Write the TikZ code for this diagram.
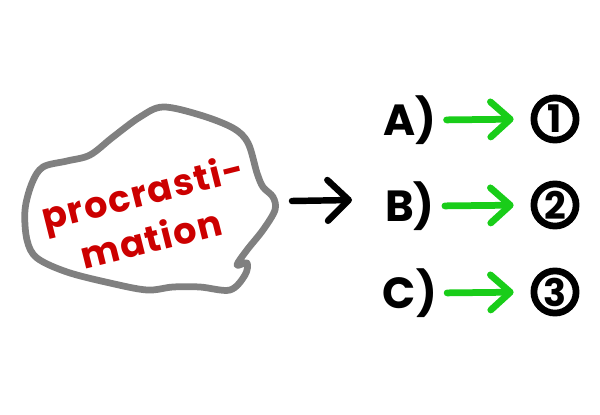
\documentclass[tikz,border=0pt]{standalone}
\usepackage{fontspec}
\setmainfont{Poppins}
\newfontfamily\markerfont[LetterSpace=4]{Poppins}
\usetikzlibrary{arrows.meta}

\begin{document}
\begin{tikzpicture}[x=0.025cm,y=-0.025cm]
		% --- Lienzo: coordenadas en pixeles (600 x 415) ---
		\useasboundingbox (0,0) rectangle (600,415);
		\definecolor{blobgray}{RGB}{128,128,128}
		\definecolor{procred}{RGB}{204,0,0}
		\definecolor{pathgreen}{RGB}{25,205,25}
		\tikzset{
			blobline/.style={draw=blobgray, line width=4.8pt, line join=round},
			proctext/.style={text=procred, font=\markerfont\bfseries\fontsize{26}{28}\selectfont, inner sep=0pt},
			letter/.style={font=\bfseries\fontsize{31}{33}\selectfont, inner sep=0pt},
			numcirc/.style={circle, draw, line width=4.8pt, minimum size=30pt, inner sep=0pt,
				font=\bfseries\fontsize{27}{29}\selectfont},
			bigarrow/.style={line width=4.6pt, line cap=round,
				-{Straight Barb[length=15pt,width=29pt,round]}},
			greenarrow/.style={draw=pathgreen, line width=4.8pt, line cap=round,
				-{Straight Barb[length=14pt,width=25pt,round]}}
		}

		% --- Mancha con el texto ---
		\draw[blobline] plot[smooth cycle, tension=0.55] coordinates {
			(163,107) (200,115) (233,128) (248,143) (257,173) (263,187) (273,197)
			(275,210) (263,230) (247,250) (237,265) (247,263) (245,275) (230,290)
			(200,287) (173,287) (147,290) (110,283) (67,272) (37,258) (27,240)
			(25,210) (32,183) (43,167) (67,161) (90,155) (113,137) (140,117)};
		\node[proctext, rotate=14] (pro1) at (143,196) {procrasti-};
		\node[proctext, rotate=14] (pro2) at (151,238) {mation};

		% --- Flecha hacia las opciones ---
		\coordinate (blobR) at (292,201);
		\coordinate (toB) at (352,200);
		\draw[bigarrow] (blobR) -- (toB);

		% --- Opciones ---
		\foreach \y/\name/\lbl/\num in {120/la/A)/1, 206/lb/B)/2, 293/lc/C)/3}{
			\node[letter] (\name) at (410,\y) {\lbl};
			\node[numcirc] (n\num) at (555,\y-1) {\num};
			\draw[greenarrow, shorten <=7pt, shorten >=12pt] (\name.east) -- (n\num.west);
		}
	\end{tikzpicture}
\end{document}
